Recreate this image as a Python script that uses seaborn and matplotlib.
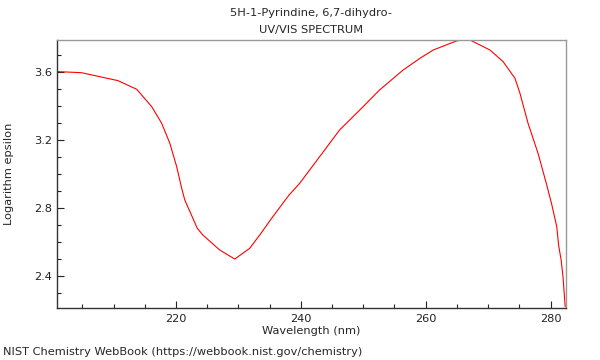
import matplotlib
matplotlib.use("Agg")
import matplotlib.pyplot as plt
import seaborn as sns
import pandas as pd
from matplotlib.ticker import MultipleLocator

# Spectrum
wavelength = [201.0, 204.8, 210.7, 213.7, 216.1, 217.7, 219.0, 220.1, 220.9, 221.4,
              223.4, 224.3, 227.0, 229.4, 231.8, 233.4, 235.5, 238.1, 239.8, 243.6,
              246.2, 249.7, 252.6, 256.4, 259.1, 261.2, 264.9, 266.0, 267.1, 270.3,
              272.4, 274.3, 275.1, 276.4, 278.0, 279.4, 280.2, 281.0, 281.3, 281.7,
              282.0, 282.35]
log_eps = [3.602, 3.596, 3.549, 3.498, 3.396, 3.298, 3.181, 3.043, 2.916, 2.847,
           2.681, 2.641, 2.553, 2.500, 2.563, 2.641, 2.749, 2.876, 2.945, 3.131,
           3.259, 3.386, 3.494, 3.612, 3.681, 3.729, 3.782, 3.790, 3.788, 3.729,
           3.661, 3.563, 3.475, 3.298, 3.122, 2.935, 2.820, 2.690, 2.580, 2.494,
           2.396, 2.219]

df = pd.DataFrame({"Wavelength": wavelength, "LogEps": log_eps})

sns.set_style("white")
plt.rcParams['font.family'] = ['DejaVu Sans']

fs = 8.2
fig = plt.figure(figsize=(6, 3.6), dpi=100)
ax = fig.add_axes([0.0958, 0.1444, 0.8467, 0.7445])

sns.lineplot(data=df, x="Wavelength", y="LogEps", color="red", linewidth=0.8, ax=ax)

ax.set_xlim(201.0, 282.4)
ax.set_ylim(2.212, 3.788)
ax.xaxis.set_major_locator(MultipleLocator(20))
ax.xaxis.set_minor_locator(MultipleLocator(5))
ax.yaxis.set_major_locator(MultipleLocator(0.4))
ax.yaxis.set_minor_locator(MultipleLocator(0.1))
ax.tick_params(which="both", direction="in", labelsize=fs, colors="#222222",
               bottom=True, left=True, top=False, right=False)
ax.tick_params(which="major", length=5, width=0.8, pad=4)
ax.tick_params(which="minor", length=3, width=0.8)

for s in ["left", "bottom"]:
    ax.spines[s].set_color("#333333")
    ax.spines[s].set_linewidth(1.0)
for s in ["top", "right"]:
    ax.spines[s].set_color("#999999")
    ax.spines[s].set_linewidth(1.0)

ax.set_xlabel("Wavelength (nm)", fontsize=fs, labelpad=2)
ax.set_ylabel("Logarithm epsilon", fontsize=fs, labelpad=14)
ax.set_title("5H-1-Pyrindine, 6,7-dihydro-\nUV/VIS SPECTRUM", fontsize=fs, pad=5,
             linespacing=1.9)

fig.text(0.005, 0.022, "NIST Chemistry WebBook (https://webbook.nist.gov/chemistry)",
         fontsize=fs, ha="left", va="center")

fig.savefig("out.png", dpi=100)
